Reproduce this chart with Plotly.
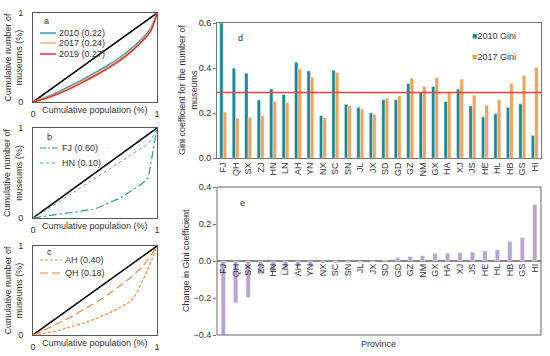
import plotly.graph_objects as go

# ---------------- data ----------------
provinces = ["FJ", "QH", "SX", "ZJ", "HN", "LN", "AH", "YN", "NX", "SC", "SN", "JL", "JX",
             "SD", "GD", "GZ", "NM", "GX", "HA", "XJ", "JS", "HE", "HL", "HB", "GS", "HI"]
gini_2010 = [0.60, 0.399, 0.377, 0.258, 0.307, 0.282, 0.426, 0.387, 0.188, 0.390, 0.239, 0.225, 0.200,
             0.259, 0.259, 0.331, 0.290, 0.318, 0.251, 0.306, 0.232, 0.183, 0.197, 0.225, 0.241, 0.100]
gini_2017 = [0.204, 0.177, 0.180, 0.188, 0.251, 0.245, 0.396, 0.359, 0.179, 0.380, 0.232, 0.217, 0.194,
             0.265, 0.276, 0.355, 0.318, 0.358, 0.291, 0.350, 0.279, 0.235, 0.259, 0.330, 0.367, 0.403]
gini_change = [-0.40, -0.225, -0.197, -0.070, -0.056, -0.040, -0.031, -0.028, -0.012, -0.010, -0.008, -0.007, -0.005,
               0.006, 0.019, 0.024, 0.028, 0.040, 0.042, 0.045, 0.048, 0.054, 0.060, 0.106, 0.127, 0.305]
national_gini = 0.291

# Lorenz curves (panel a)
lz_x = [0, 0.1, 0.2, 0.3, 0.4, 0.5, 0.6, 0.7, 0.8, 0.9, 0.95, 1]
lz_2010 = [0, 0.05, 0.11, 0.18, 0.25, 0.33, 0.41, 0.50, 0.61, 0.74, 0.83, 1]
lz_2017 = [0, 0.045, 0.10, 0.165, 0.235, 0.31, 0.39, 0.48, 0.59, 0.72, 0.81, 1]
lz_2019 = [0, 0.04, 0.09, 0.15, 0.22, 0.295, 0.375, 0.465, 0.575, 0.71, 0.80, 1]
# panel b
fj_x = [0, 0.1, 0.3, 0.5, 0.7, 0.88, 0.93, 0.97, 1]
fj_y = [0, 0.02, 0.06, 0.10, 0.22, 0.38, 0.45, 0.75, 1]
hn_x = [0, 0.2, 0.4, 0.6, 0.8, 0.9, 0.95, 1]
hn_y = [0, 0.17, 0.35, 0.53, 0.71, 0.80, 0.86, 1]
# panel c
ah_x = [0, 0.1, 0.2, 0.3, 0.4, 0.5, 0.6, 0.7, 0.8, 0.88, 0.95, 1]
ah_y = [0, 0.02, 0.05, 0.09, 0.13, 0.18, 0.24, 0.31, 0.40, 0.60, 0.82, 1]
qh_x = [0, 0.1, 0.2, 0.3, 0.4, 0.5, 0.6, 0.7, 0.8, 0.9, 1]
qh_y = [0, 0.06, 0.13, 0.20, 0.28, 0.36, 0.45, 0.55, 0.66, 0.80, 1]
equality = [0, 1]

# ---------------- styling ----------------
W, H = 550, 356
FONT = "Liberation Sans, Arial, sans-serif"
TXT = "#333333"
TEAL = "#17879A"
ORANGE = "#F5A04E"
PURPLE = "#B9A4D1"


def px_x(p):
    return p / W


def px_y(p):
    return 1 - p / H


fig = go.Figure()

# panel a
fig.add_trace(go.Scatter(x=equality, y=equality, mode="lines", line=dict(color="black", width=1.5), xaxis="x", yaxis="y"))
fig.add_trace(go.Scatter(x=lz_x, y=lz_2010, mode="lines", line=dict(color="#2E9DBE", width=1.5, shape="spline"), xaxis="x", yaxis="y"))
fig.add_trace(go.Scatter(x=lz_x, y=lz_2017, mode="lines", line=dict(color="#F5B06A", width=1.5, shape="spline"), xaxis="x", yaxis="y"))
fig.add_trace(go.Scatter(x=lz_x, y=lz_2019, mode="lines", line=dict(color="#E5322B", width=1.5, shape="spline"), xaxis="x", yaxis="y"))
# panel b
fig.add_trace(go.Scatter(x=equality, y=equality, mode="lines", line=dict(color="black", width=1.5), xaxis="x2", yaxis="y2"))
fig.add_trace(go.Scatter(x=fj_x, y=fj_y, mode="lines", line=dict(color="#2A9A9C", width=1.2, dash="8px,3px,2px,3px"), xaxis="x2", yaxis="y2"))
fig.add_trace(go.Scatter(x=hn_x, y=hn_y, mode="lines", line=dict(color="#4DAAB4", width=1, dash="dot"), xaxis="x2", yaxis="y2"))
# panel c
fig.add_trace(go.Scatter(x=equality, y=equality, mode="lines", line=dict(color="black", width=1.5), xaxis="x3", yaxis="y3"))
fig.add_trace(go.Scatter(x=ah_x, y=ah_y, mode="lines", line=dict(color="#EE8A3A", width=1.2, dash="3px,2px", shape="spline"), xaxis="x3", yaxis="y3"))
fig.add_trace(go.Scatter(x=qh_x, y=qh_y, mode="lines", line=dict(color="#EE8A3A", width=1.2, dash="8px,4px", shape="spline"), xaxis="x3", yaxis="y3"))
# panel d
fig.add_trace(go.Bar(x=provinces, y=gini_2010, marker_color=TEAL, width=0.27, offset=-0.28, xaxis="x4", yaxis="y4"))
fig.add_trace(go.Bar(x=provinces, y=gini_2017, marker_color=ORANGE, width=0.27, offset=0.0, xaxis="x4", yaxis="y4"))
# panel e
fig.add_trace(go.Bar(x=provinces, y=gini_change, marker_color=PURPLE, width=0.34, offset=-0.17, xaxis="x5", yaxis="y5"))

small_x = [px_x(33), px_x(157)]
doms_y = {
    "a": [px_y(102), px_y(13)],
    "b": [px_y(218), px_y(128)],
    "c": [px_y(335), px_y(246)],
}
d_x = [px_x(217), px_x(541)]
d_y = [px_y(158), px_y(23)]
e_y = [px_y(335), px_y(187)]

tickfont = dict(family=FONT, size=9, color=TXT)
small_ax = dict(range=[0, 1], tickvals=[0, 1], ticktext=["0", "1"], showgrid=False, zeroline=False,
                showline=True, mirror=True, linecolor="#555", linewidth=1, ticks="", tickfont=tickfont,
                automargin=False)

layout = dict(
    width=W, height=H, margin=dict(l=0, r=0, t=0, b=0, autoexpand=False),
    paper_bgcolor="white", plot_bgcolor="white", showlegend=False,
    font=dict(family=FONT, size=9, color=TXT), barmode="overlay",
)
for i, key in enumerate(["a", "b", "c"]):
    sfx = "" if i == 0 else str(i + 1)
    layout["xaxis" + sfx] = dict(small_ax, domain=small_x, anchor="y" + sfx, ticklabelstandoff=3)
    layout["yaxis" + sfx] = dict(small_ax, domain=doms_y[key], anchor="x" + sfx, ticklabelstandoff=7)

layout["xaxis4"] = dict(domain=d_x, anchor="y4", type="category", range=[-0.5, 25.5], tickangle=-90,
                        tickfont=tickfont, showline=True, mirror=True, linecolor="#777", ticks="",
                        showgrid=False, automargin=False)
layout["yaxis4"] = dict(domain=d_y, anchor="x4", range=[0, 0.6], tickvals=[0, 0.2, 0.4, 0.6], tickformat=".1f",
                        tickfont=tickfont, showline=True, mirror=True, linecolor="#777", ticks="outside",
                        ticklen=3, tickcolor="#777", showgrid=False, zeroline=False, automargin=False)
layout["xaxis5"] = dict(domain=d_x, anchor="free", position=(e_y[0] + e_y[1]) / 2, type="category",
                        range=[-0.5, 25.5], tickangle=-90, tickfont=tickfont, showline=False, ticks="",
                        showgrid=False, automargin=False)
layout["yaxis5"] = dict(domain=e_y, anchor="x5", range=[-0.4, 0.4], tickvals=[-0.4, -0.2, 0, 0.2, 0.4],
                        tickformat=".1f", tickfont=tickfont, showline=False, ticks="outside", ticklen=3,
                        tickcolor="#777", showgrid=False, zeroline=True, zerolinecolor="#888",
                        zerolinewidth=1.5, automargin=False)

shapes = [
    dict(type="line", xref="x4 domain", yref="y4", x0=0, x1=1, y0=national_gini, y1=national_gini,
         line=dict(color="#E8453C", width=1.5)),
    dict(type="rect", xref="x5 domain", yref="y5 domain", x0=0, x1=1, y0=0, y1=1,
         line=dict(color="#666", width=1), layer="above"),
]

annotations = []


def ann(x, y, text, **kw):
    d = dict(x=px_x(x), y=px_y(y), xref="paper", yref="paper", text=text, showarrow=False,
             font=dict(family=FONT, size=9, color=TXT), xanchor="left", yanchor="middle")
    d.update(kw)
    annotations.append(d)


# manual legends for small panels
def leg_line(x0, x1, y, color, dash, width=1.5):
    shapes.append(dict(type="line", xref="paper", yref="paper", x0=px_x(x0), x1=px_x(x1), y0=px_y(y), y1=px_y(y),
                       line=dict(color=color, width=width, dash=dash)))


ann(42, 21, "a")
leg_line(40, 56, 33, "#2E9DBE", "solid")
ann(57, 33, "2010 (0.22)")
leg_line(40, 56, 43, "#F5B06A", "solid")
ann(57, 43, "2017 (0.24)")
leg_line(40, 56, 54, "#E5322B", "solid")
ann(57, 54, "2019 (0.27)")

ann(45, 137, "b")
leg_line(40, 58, 148, "#2A9A9C", "6px,2px,2px,2px", 1.2)
ann(60, 148, "FJ (0.60)")
leg_line(40, 58, 163, "#4DAAB4", "dot", 1)
ann(60, 163, "HN (0.10)")

ann(45, 252, "c")
leg_line(40, 62, 260, "#EE8A3A", "3px,2px", 1.2)
ann(63, 260, "AH (0.40)")
leg_line(40, 62, 273, "#EE8A3A", "8px,4px", 1.2)
ann(63, 273, "QH (0.18)")

# x titles of small panels
for yy in [110, 226, 343]:
    ann(95, yy, "Cumulative population (%)", xanchor="center")
# y titles of small panels
for yc in [57.5, 173, 290.5]:
    ann(13, yc, "Cumulative number of<br>museums (%)", textangle=-90, xanchor="center")

# panel d / e texts
ann(236, 38, "d")
ann(238, 203, "e")
ann(470, 36, "<span style='color:%s'>■</span>2010 Gini" % TEAL)
ann(470, 57, "<span style='color:%s'>■</span>2017 Gini" % ORANGE)
ann(188, 90, "Gini coefficient for the number of<br>museums", textangle=-90, xanchor="center")
ann(186, 261, "Change in Gini coefficient", textangle=-90, xanchor="center")
ann(378, 344, "Province", xanchor="center")

layout["shapes"] = shapes
layout["annotations"] = annotations
fig.update_layout(**layout)

fig.write_html("out.html", config={"displayModeBar": False},
               post_script="document.body.style.margin='0';document.body.style.padding='0';"
                           "document.body.style.overflow='hidden';")
